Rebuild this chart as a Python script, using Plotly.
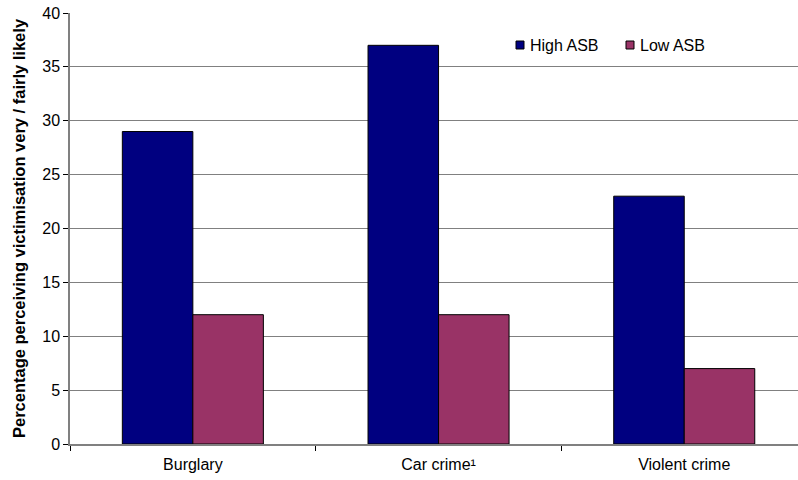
import plotly.graph_objects as go

categories = ["Burglary", "Car crime¹", "Violent crime"]
high_asb = [29, 37, 23]
low_asb = [12, 12, 7]
y_ticks = [0, 5, 10, 15, 20, 25, 30, 35, 40]

series_names = ["High ASB", "Low ASB"]
series_colors = ["#000080", "#993366"]

fig = go.Figure()
for name, vals, color in zip(series_names, [high_asb, low_asb], series_colors):
    fig.add_trace(go.Bar(
        x=categories, y=vals, name=name, showlegend=False,
        marker=dict(color=color, line=dict(color="#000000", width=1)),
    ))

# Key: small outlined squares with labels, placed in pixel offsets from the plot's left edge
W, H = 798, 480
ML, MR, MT, MB = 70, 0, 13, 36
pw, ph = W - ML - MR, H - MT - MB
key_x = [516, 626]          # left edge of each square (px)
key_y = 45                  # vertical centre (px)
for name, color, kx in zip(series_names, series_colors, key_x):
    x0 = (kx - ML) / pw
    x1 = (kx + 8 - ML) / pw
    y0 = 1 - (key_y - 4 - MT) / ph
    y1 = 1 - (key_y + 4 - MT) / ph
    fig.add_shape(type="rect", xref="paper", yref="paper", x0=x0, x1=x1, y0=y0, y1=y1,
                  fillcolor=color, line=dict(color="#000000", width=1))
    fig.add_annotation(xref="paper", yref="paper", x=(kx + 12 - ML) / pw,
                       y=1 - (key_y - MT) / ph, text=name, showarrow=False,
                       xanchor="left", yanchor="middle", font=dict(size=16))

fig.update_layout(
    width=W, height=H,
    margin=dict(l=ML, r=MR, t=MT, b=MB),
    paper_bgcolor="white", plot_bgcolor="white",
    barmode="group", bargap=0.426, bargroupgap=0,
    font=dict(family="Liberation Sans, Arial, sans-serif", size=16, color="#000000"),
    showlegend=False,
    xaxis=dict(
        range=[-0.5, 2.463],
        showline=True, linecolor="#808080", linewidth=1.5,
        ticks="outside", tickson="boundaries", ticklen=5, tickcolor="#000000",
        showgrid=False, tickfont=dict(size=16), ticklabelstandoff=5,
    ),
    yaxis=dict(
        range=[0, 40], tickvals=y_ticks,
        showline=True, linecolor="#808080", linewidth=1.5,
        ticks="outside", ticklen=5, tickcolor="#000000",
        showgrid=True, gridcolor="#808080", gridwidth=1,
        zeroline=False, tickfont=dict(size=16),
        title=dict(
            text="<b>Percentage perceiving victimisation very / fairly likely</b>",
            font=dict(size=16.5), standoff=12,
        ),
    ),
)

fig.write_html("out.html")
